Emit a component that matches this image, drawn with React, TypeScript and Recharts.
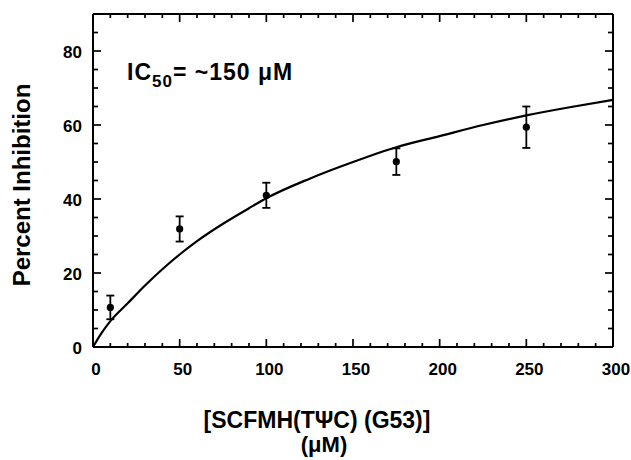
import React from 'react';
import { ComposedChart, Line, Scatter, ErrorBar, XAxis, YAxis, Customized } from 'recharts';

// Measured data points
const concentrations = [10, 50, 100, 175, 250];
const inhibition = [10.7, 31.9, 41.0, 50.1, 59.4];
const errors = [3.2, 3.4, 3.4, 3.6, 5.6];

// Fitted curve
const curveX = [0, 5, 10, 20, 30, 40, 50, 60, 75, 90, 100, 125, 150, 175, 200, 225, 250, 275, 300];
const curveY = [0, 3.8, 7.0, 11.8, 16.6, 21.0, 25.0, 28.6, 33.3, 37.5, 40.2, 45.5, 50.0, 54.0, 57.0, 60.0, 62.6, 64.8, 66.8];

const xTicks = [0, 10, 20, 30, 40, 50, 60, 70, 80, 90, 100, 110, 120, 130, 140, 150, 160, 170, 180, 190, 200, 210, 220, 230, 240, 250, 260, 270, 280, 290, 300];
const xLabels = [0, 50, 100, 150, 200, 250, 300];
const yTicks = [0, 5, 10, 15, 20, 25, 30, 35, 40, 45, 50, 55, 60, 65, 70, 75, 80, 85, 90];
const yLabels = [0, 20, 40, 60, 80];

const pointData = concentrations.map((c, i) => ({ x: c, y: inhibition[i], err: errors[i] }));
const curveData = curveX.map((c, i) => ({ x: c, y: curveY[i] }));

const FONT = '"Liberation Sans", Arial, Helvetica, sans-serif';
const TICK_W = 1.7;

const isMajorX = (v: number) => xLabels.includes(v);
const isMajorY = (v: number) => yLabels.includes(v);

const BottomTick = (props: any) => {
  const { x, y, payload } = props;
  const v = payload.value;
  const len = isMajorX(v) ? 8 : 4;
  return (
    <g>
      {v > 0 && v < 300 && <path d={`M${x},${y}L${x},${y - len}`} stroke="#000" strokeWidth={TICK_W} />}
      {isMajorX(v) && (
        <text x={x + 3} y={y + 28} textAnchor="middle" fontFamily={FONT} fontWeight="bold" fontSize={17} fill="#000">
          {v}
        </text>
      )}
    </g>
  );
};

const TopTick = (props: any) => {
  const { x, y, payload } = props;
  const v = payload.value;
  if (v <= 0 || v >= 300) return <g />;
  const len = isMajorX(v) ? 8 : 4;
  return <path d={`M${x},${y}L${x},${y + len}`} stroke="#000" strokeWidth={TICK_W} />;
};

const LeftTick = (props: any) => {
  const { x, y, payload } = props;
  const v = payload.value;
  const len = isMajorY(v) ? 8 : 5;
  return (
    <g>
      {v > 0 && v < 90 && <path d={`M${x},${y}L${x + len},${y}`} stroke="#000" strokeWidth={TICK_W} />}
      {isMajorY(v) && (
        <text x={x - 11} y={y + 7} textAnchor="end" fontFamily={FONT} fontWeight="bold" fontSize={17} fill="#000">
          {v}
        </text>
      )}
    </g>
  );
};

const RightTick = (props: any) => {
  const { x, y, payload } = props;
  const v = payload.value;
  if (v <= 0 || v >= 90) return <g />;
  const len = isMajorY(v) ? 8 : 5;
  return <path d={`M${x},${y}L${x - len},${y}`} stroke="#000" strokeWidth={TICK_W} />;
};

const Dot = (p: any) => <circle cx={p.cx} cy={p.cy} r={3.6} fill="#000" />;

const Annotations = () => (
  <g fontFamily={FONT} fontWeight="bold" fill="#000">
    <text x={127} y={80} fontSize={23} letterSpacing={1}>
      IC<tspan fontSize={17} dy={7}>50</tspan>
      <tspan dy={-7}>= ~150 μM</tspan>
    </text>
    <text x={30} y={185} fontSize={24} textAnchor="middle" transform="rotate(-90, 30, 185)">
      Percent Inhibition
    </text>
    <text x={317} y={428} fontSize={23} textAnchor="middle">
      [SCFMH(TΨC) (G53)]
    </text>
    <text x={324} y={452} fontSize={22} textAnchor="middle">
      (μM)
    </text>
  </g>
);

export default function App() {
  const axisLine = { stroke: '#000', strokeWidth: 2 };
  return (
    <div style={{ position: 'absolute', left: 0, top: 0, width: 631, height: 460, background: '#fff' }}>
      <ComposedChart width={631} height={460} margin={{ top: 13, right: 17, bottom: 0, left: 0 }}>
        <XAxis
          xAxisId={0}
          dataKey="x"
          type="number"
          domain={[0, 300]}
          ticks={xTicks}
          interval={0}
          height={113}
          tickSize={0}
          tickMargin={0}
          tickLine={false}
          axisLine={axisLine}
          tick={<BottomTick />}
        />
        <XAxis
          xAxisId="top"
          orientation="top"
          dataKey="x"
          type="number"
          domain={[0, 300]}
          ticks={xTicks}
          interval={0}
          height={1}
          tickSize={0}
          tickMargin={0}
          tickLine={false}
          axisLine={axisLine}
          tick={<TopTick />}
        />
        <YAxis
          yAxisId={0}
          type="number"
          domain={[0, 90]}
          ticks={yTicks}
          interval={0}
          width={93}
          tickSize={0}
          tickMargin={0}
          tickLine={false}
          axisLine={axisLine}
          tick={<LeftTick />}
        />
        <YAxis
          yAxisId="right"
          orientation="right"
          type="number"
          domain={[0, 90]}
          ticks={yTicks}
          interval={0}
          width={1}
          tickSize={0}
          tickMargin={0}
          tickLine={false}
          axisLine={axisLine}
          tick={<RightTick />}
        />
        <Line
          xAxisId="top"
          yAxisId="right"
          data={curveData}
          dataKey="y"
          stroke="none"
          dot={false}
          activeDot={false}
          legendType="none"
          isAnimationActive={false}
        />
        <Line
          data={curveData}
          dataKey="y"
          type="monotone"
          stroke="#000"
          strokeWidth={2.2}
          dot={false}
          activeDot={false}
          isAnimationActive={false}
        />
        <Scatter data={pointData} dataKey="y" shape={<Dot />} isAnimationActive={false}>
          <ErrorBar dataKey="err" direction="y" width={4} stroke="#000" strokeWidth={1.8} isAnimationActive={false} />
        </Scatter>
        <Customized component={<Annotations />} />
      </ComposedChart>
    </div>
  );
}
